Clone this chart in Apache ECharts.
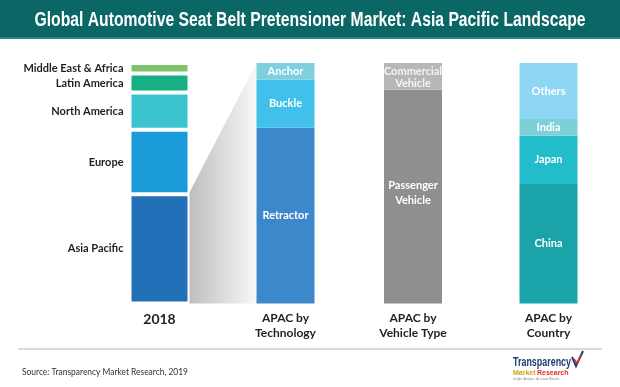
<!DOCTYPE html>
<html><head><meta charset="utf-8">
<script src="https://cdn.jsdelivr.net/npm/echarts@6/dist/echarts.min.js"></script>
<style>html,body{margin:0;padding:0;background:#fff}#c{width:620px;height:387px}</style>
</head><body><div id="c"></div>
<script>
// ---- data ----
const categories = ['2018', 'APAC by\nTechnology', 'APAC by\nVehicle Type', 'APAC by\nCountry'];
const regionNames = ['Asia Pacific', 'Europe', 'North America', 'Latin America', 'Middle East & Africa'];
const regionValues = [45.4, 26.8, 15.5, 7.9, 4.4];
const techNames = ['Retractor', 'Buckle', 'Anchor'];
const techValues = [73.1, 19.9, 7.0];
const vehicleNames = ['Passenger\nVehicle', 'Commercial\nVehicle'];
const vehicleValues = [88.9, 11.1];
const countryNames = ['China', 'Japan', 'India', 'Others'];
const countryValues = [49.7, 20.0, 7.0, 23.3];
const titleText = 'Global Automotive Seat Belt Pretensioner Market: Asia Pacific Landscape';
const sourceText = 'Source: Transparency Market Research, 2019';

// ---- styles ----
const regionColors = ['#2170b8', '#1a9bd7', '#3cc3d0', '#17b085', '#7cc46a'];
const techColors = ['#3d87cb', '#40c0ea', '#7ed0df'];
const vehicleColors = ['#8f8f8f', '#b7b7b7'];
const countryColors = ['#1aa3a8', '#22bccb', '#7dcfd8', '#8dd7f5'];
const FONT = 'Lato, "Open Sans", sans-serif';
const centers = [159.5, 285.5, 413, 548.5];

const chart = echarts.init(document.getElementById('c'), null, {renderer: 'canvas'});
const mctx = document.createElement('canvas').getContext('2d');
function fitScale(text, font, target) { mctx.font = font; return target / mctx.measureText(text).width; }

function makeSeries(gi, names, values, colors, label, extra, bw) {
  return names.map((n, i) => ({
    type: 'bar', name: n, xAxisIndex: gi, yAxisIndex: gi, stack: 's' + gi,
    barWidth: bw, silent: true, animation: false,
    data: [values[i]],
    itemStyle: Object.assign({color: colors[i]}, extra || {}),
    label: Object.assign({show: true, formatter: n}, label)
  }));
}

const insideLabel = {position: 'inside', color: '#fff', fontFamily: FONT, fontWeight: 'bold', fontSize: 11, lineHeight: 13};
const leftLabel = {position: 'left', distance: 6, color: '#231f20', fontFamily: FONT, fontWeight: 'bold', fontSize: 11};

const grids = centers.map(c => ({left: c - 50, width: 100, top: 63, height: 240.5}));
const xAxes = categories.map((cat, i) => ({
  type: 'category', gridIndex: i, data: [cat],
  axisLine: {show: false}, axisTick: {show: false},
  axisLabel: i === 0
    ? {margin: 9, color: '#231f20', fontFamily: FONT, fontWeight: 'bold', fontSize: 14}
    : {margin: 7, color: '#231f20', fontFamily: FONT, fontWeight: 'bold', fontSize: 12, lineHeight: 15}
}));
const yAxes = categories.map((c, i) => ({type: 'value', gridIndex: i, min: 0, max: 100, show: false}));

const series = [].concat(
  makeSeries(0, regionNames, regionValues, regionColors, leftLabel, {borderColor: '#fff', borderWidth: 2}, 60),
  makeSeries(1, techNames, techValues, techColors, insideLabel, null, 58),
  makeSeries(2, vehicleNames, vehicleValues, vehicleColors, insideLabel, null, 58),
  makeSeries(3, countryNames, countryValues, countryColors, insideLabel, null, 58)
);
series[8].label.lineHeight = 15; // passenger vehicle
series[8].label.offset = [0, -4];
series[9].label.color = '#f4f4f4';
series[9].label.lineHeight = 12;
series[9].label.offset = [0, 1];

chart.setOption({
  animation: false,
  backgroundColor: '#fff',
  grid: grids, xAxis: xAxes, yAxis: yAxes, series: series
});

// connector polygon computed from the axes
const half = 29;
const x1 = chart.convertToPixel({xAxisIndex: 0}, 0) + half;
const yTop1 = chart.convertToPixel({yAxisIndex: 0}, regionValues[0]);
const yBot = chart.convertToPixel({yAxisIndex: 0}, 0);
const x2 = chart.convertToPixel({xAxisIndex: 1}, 0) - half;
const yTop2 = chart.convertToPixel({yAxisIndex: 1}, techValues.reduce((a, b) => a + b, 0));

const titleFont = 'bold 21px "Liberation Sans", Arial, sans-serif';
const titleScale = fitScale(titleText, titleFont, 551);
const logoFont = 'bold 12px "Liberation Sans", Arial, sans-serif';
const logoScale = fitScale('Transparency', logoFont, 58);
const srcFont = '9px Lato, "Open Sans", sans-serif';
const srcScale = fitScale(sourceText, srcFont, 166);

chart.setOption({
  graphic: [
    {type: 'rect', z: -10, shape: {x: 0, y: 0, width: 620, height: 37}, style: {fill: '#0b6766'}},
    {type: 'rect', z: -10, shape: {x: 0, y: 37, width: 620, height: 2}, style: {fill: '#2f8280'}},
    {type: 'text', x: 310, y: 20, scaleX: titleScale, style: {text: titleText, fill: '#fff', font: titleFont, textAlign: 'center', textVerticalAlign: 'middle'}},
    {type: 'polygon', z: -5, shape: {points: [[x1, yTop1], [x2, yTop2], [x2, yBot], [x1, yBot]]},
      style: {fill: new echarts.graphic.LinearGradient(0, 0, 1, 0, [{offset: 0, color: '#bdbdbd'}, {offset: 1, color: '#f8f8f8'}])}},
    {type: 'line', shape: {x1: 18, y1: 349, x2: 602, y2: 349}, style: {stroke: '#dadada', lineWidth: 2}},
    {type: 'text', x: 22, y: 372, scaleX: srcScale, style: {text: sourceText, fill: '#333', font: srcFont, textVerticalAlign: 'middle'}},
    {type: 'text', x: 513, y: 363, scaleX: logoScale, style: {text: 'Transparency', fill: '#1e3d73', font: logoFont, textVerticalAlign: 'middle'}},
    {type: 'text', x: 513, y: 373, style: {text: 'Market', fill: '#c9a80f', font: 'bold 7px "Liberation Sans", sans-serif', textVerticalAlign: 'middle'}},
    {type: 'text', x: 537, y: 373, style: {text: 'Research', fill: '#e0302a', font: 'bold 7px "Liberation Sans", sans-serif', textVerticalAlign: 'middle'}},
    {type: 'text', x: 513, y: 379, style: {text: 'Insight. Analysis. Accurate Results.', fill: '#888', font: '3px sans-serif', textVerticalAlign: 'middle'}},
    {type: 'polyline', shape: {points: [[572, 357], [576, 366], [583, 351]]}, style: {stroke: '#1e3d73', lineWidth: 2, fill: null}},
    {type: 'polyline', shape: {points: [[574, 359], [577, 363], [581, 355]]}, style: {stroke: '#e0302a', lineWidth: 1.5, fill: null}}
  ]
});
</script>
</body></html>
